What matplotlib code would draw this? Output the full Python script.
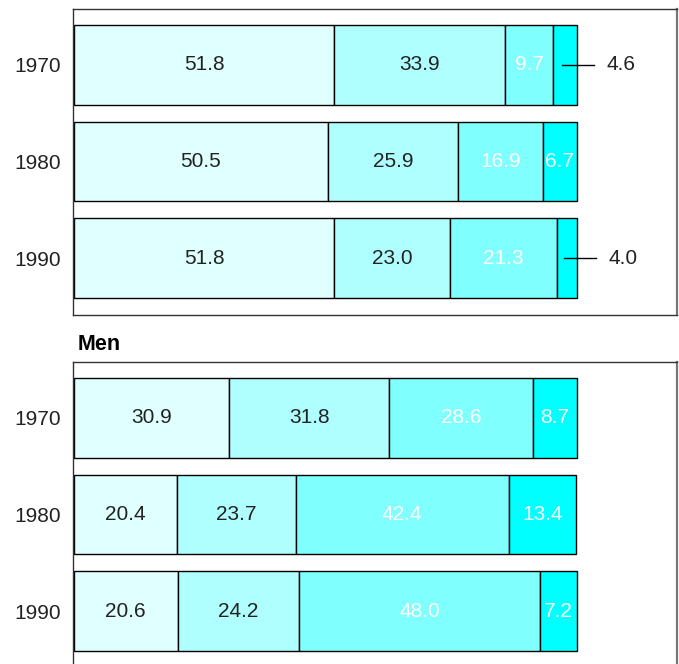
import numpy as np
import matplotlib
matplotlib.use('Agg')
import matplotlib.pyplot as plt

plt.rcParams['font.family'] = ['Liberation Sans', 'DejaVu Sans']

years = ['1970', '1980', '1990']
women = [[51.8, 33.9, 9.7, 4.6],
         [50.5, 25.9, 16.9, 6.7],
         [51.8, 23.0, 21.3, 4.0]]
men = [[30.9, 31.8, 28.6, 8.7],
       [20.4, 23.7, 42.4, 13.4],
       [20.6, 24.2, 48.0, 7.2]]

colors = ['#E0FFFF', '#B0FFFF', '#80FFFF', '#00FFFF']
text_colors = ['#222222', '#222222', 'white', 'white']

W, H = 679, 664
fig = plt.figure(figsize=(W / 100, H / 100), dpi=100)

ax_w = fig.add_axes([73 / W, 1 - 315 / H, (677 - 73) / W, 306 / H])
ax_m = fig.add_axes([73 / W, 1 - 668 / H, (677 - 73) / W, 306 / H])

FS = 15


def draw_panel(ax, data):
    ypos = np.arange(len(years))
    for i, row in enumerate(data):
        left = 0
        for j, v in enumerate(row):
            ax.barh(ypos[i], v, left=left, height=0.82, color=colors[j],
                    edgecolor='black', linewidth=1)
            cx = left + v / 2
            if v < 5:
                # small slice: leader line with label outside the bar
                ax.plot([cx - 0.6, cx + 5.8], [ypos[i], ypos[i]], color='black', lw=1)
                ax.text(cx + 8.2, ypos[i], '%.1f' % v, ha='left', va='center',
                        fontsize=FS, color='#222222')
            else:
                ax.text(cx, ypos[i], '%.1f' % v, ha='center', va='center',
                        fontsize=FS, color=text_colors[j])
            left += v
    ax.set_xlim(-0.2, 120)
    ax.set_ylim(2.59, -0.58)
    ax.set_yticks(ypos)
    ax.set_yticklabels(years, fontsize=FS, color='#222222')
    ax.tick_params(axis='y', length=0, pad=9)
    ax.set_xticks([])
    for s in ax.spines.values():
        s.set_color('#333333')
        s.set_linewidth(1)
    ax.spines['right'].set_color('#777777')
    ax.spines['right'].set_linewidth(1.6)


draw_panel(ax_w, women)
draw_panel(ax_m, men)

fig.text(78 / W, 1 - 344 / H, 'Men', fontsize=15.5, fontweight='bold',
         ha='left', va='center')

fig.savefig('out.png', dpi=100)
